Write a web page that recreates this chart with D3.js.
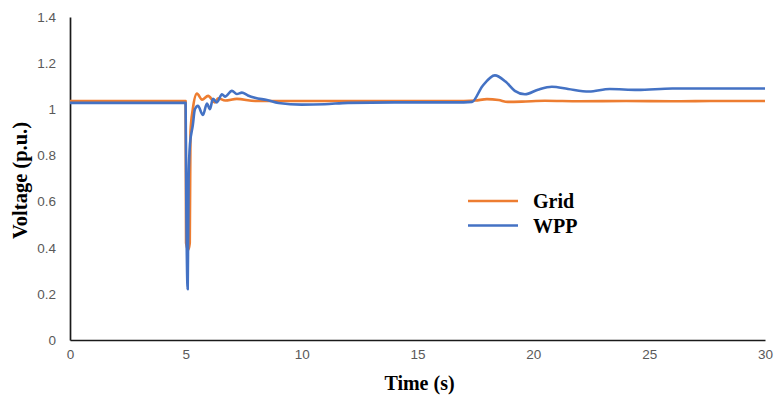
<!DOCTYPE html>
<html>
<head>
<meta charset="utf-8">
<script src="https://cdn.jsdelivr.net/npm/d3@7"></script>
<style>
  html, body { margin: 0; padding: 0; background: #fff; }
  svg { display: block; }
</style>
</head>
<body>
<svg id="chart" width="776" height="399"></svg>
<script>
// Time axis samples (s) and bus voltages (p.u.)
const gridTime = [0, 4.99, 5.01, 5.1, 5.17, 5.2, 5.3, 5.48, 5.7, 5.96, 6.26, 6.39, 6.7, 7.2, 8, 9, 10, 12, 14, 17, 17.5, 18, 18.5, 18.9, 19.5, 20.5, 22, 24, 26, 28, 30];
const gridVoltage = [1.036, 1.036, 0.42, 0.39, 0.42, 0.9, 1.0, 1.068, 1.042, 1.058, 1.03, 1.048, 1.038, 1.045, 1.036, 1.036, 1.036, 1.036, 1.036, 1.036, 1.038, 1.044, 1.04, 1.032, 1.033, 1.037, 1.035, 1.036, 1.035, 1.036, 1.036];

const wppTime = [0, 4.99, 5.02, 5.08, 5.12, 5.18, 5.3, 5.39, 5.52, 5.74, 5.91, 6.04, 6.17, 6.34, 6.56, 6.69, 6.99, 7.2, 7.42, 7.68, 7.98, 8.5, 9, 10, 11, 12, 14, 17, 17.35, 17.8, 18.34, 18.8, 19.2, 19.64, 20.2, 20.8, 21.5, 22.4, 23.3, 24.5, 26, 28, 30];
const wppVoltage = [1.028, 1.028, 0.6, 0.22, 0.7, 0.85, 0.93, 1.0, 1.015, 0.975, 1.025, 1.0, 1.045, 1.03, 1.065, 1.055, 1.08, 1.066, 1.072, 1.06, 1.05, 1.04, 1.027, 1.02, 1.022, 1.028, 1.03, 1.03, 1.032, 1.1, 1.147, 1.12, 1.08, 1.065, 1.085, 1.098, 1.088, 1.077, 1.088, 1.084, 1.09, 1.09, 1.09];

const xTicks = [0, 5, 10, 15, 20, 25, 30];
const yTicks = [0, 0.2, 0.4, 0.6, 0.8, 1, 1.2, 1.4];

const seriesNames = ["Grid", "WPP"];
const seriesColors = ["#ED7D31", "#4472C4"];

const svg = d3.select("#chart");
const margin = { left: 70, right: 11, top: 17, bottom: 59 };
const W = 776, H = 399;

const x = d3.scaleLinear().domain([0, 30]).range([margin.left, W - margin.right]);
const y = d3.scaleLinear().domain([0, 1.4]).range([H - margin.bottom, margin.top]);

// Axes: plain black spines, no tick marks, grey labels
const xAxis = d3.axisBottom(x).tickValues(xTicks).tickSize(0).tickPadding(9).tickFormat(d3.format("d"));
const yAxis = d3.axisLeft(y).tickValues(yTicks).tickSize(0).tickPadding(14).tickFormat(d => d3.format("~g")(d));

const gx = svg.append("g").attr("transform", `translate(0,${H - margin.bottom})`).call(xAxis);
const gy = svg.append("g").attr("transform", `translate(${margin.left},0)`).call(yAxis);

[gx, gy].forEach(g => {
  g.select(".domain").attr("stroke", "#1a1a1a").attr("stroke-width", 1.7);
  g.selectAll(".tick text")
    .attr("fill", "#595959")
    .style("font-family", "'Liberation Sans', Arial, sans-serif")
    .style("font-size", "13.5px");
});

// Series lines
const line = d3.line()
  .x(d => x(d[0]))
  .y(d => y(d[1]))
  .curve(d3.curveMonotoneX);

const series = [
  d3.zip(gridTime, gridVoltage),
  d3.zip(wppTime, wppVoltage)
];

// Draw grid first, WPP on top
svg.append("g")
  .selectAll("path")
  .data(series)
  .join("path")
  .attr("d", line)
  .attr("fill", "none")
  .attr("stroke", (d, i) => seriesColors[i])
  .attr("stroke-width", 2.6)
  .attr("stroke-linejoin", "round");

const titleFont = "'Liberation Serif', 'Times New Roman', serif";

// Axis titles
svg.append("text")
  .attr("x", x(15) + 2)
  .attr("y", 390)
  .attr("text-anchor", "middle")
  .style("font-family", titleFont)
  .style("font-weight", "bold")
  .style("font-size", "20px")
  .attr("fill", "#000")
  .text("Time (s)");

svg.append("text")
  .attr("transform", `translate(27,${y(0.7) + 2}) rotate(-90)`)
  .attr("text-anchor", "middle")
  .style("font-family", titleFont)
  .style("font-weight", "bold")
  .style("font-size", "20.5px")
  .attr("fill", "#000")
  .text("Voltage (p.u.)");

// Legend
const legend = svg.append("g").attr("transform", "translate(468,201)");
seriesNames.forEach((name, i) => {
  const row = legend.append("g").attr("transform", `translate(0,${i * 24.5})`);
  row.append("line")
    .attr("x1", 0).attr("x2", 50)
    .attr("y1", 0).attr("y2", 0)
    .attr("stroke", seriesColors[i])
    .attr("stroke-width", 2.6);
  row.append("text")
    .attr("x", 65)
    .attr("y", 0)
    .attr("dy", "0.35em")
    .style("font-family", titleFont)
    .style("font-weight", "bold")
    .style("font-size", "20px")
    .attr("fill", "#000")
    .text(name);
});
</script>
</body>
</html>
